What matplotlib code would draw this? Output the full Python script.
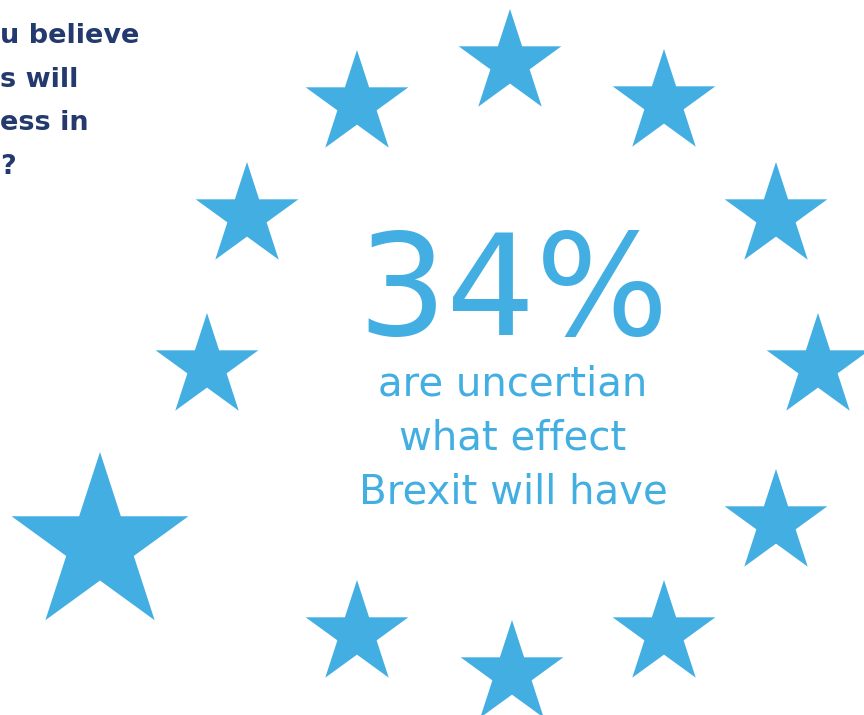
import matplotlib
matplotlib.use("Agg")
import matplotlib.pyplot as plt

# star centres (pixel space of the 864x715 picture) and their outer radius
star_x = [510, 664, 776, 818, 776, 664, 512, 357, 100, 207, 247, 357]
star_y = [63, 103, 216, 367, 523, 634, 674, 634, 545, 367, 216, 104]
star_r = [54, 54, 54, 54, 54, 54, 54, 54, 93, 54, 54, 54]

headline = "34%"
sub_lines = ["are uncertian", "what effect", "Brexit will have"]
question_lines = ["u believe", "s will", "ess in", "?"]

blue = "#43aee2"
navy = "#243a6e"

fig = plt.figure(figsize=(8.64, 7.15), dpi=100)
ax = fig.add_axes([0, 0, 1, 1])
ax.set_xlim(0, 864)
ax.set_ylim(715, 0)
ax.axis("off")

# radius in px -> marker size in points (the '*' marker has outer radius ms/2)
px2pt = 72 / fig.dpi
sizes = [(2 * r * px2pt) ** 2 for r in star_r]
ax.scatter(star_x, star_y, s=sizes, marker="*", color=blue, linewidths=0)

ax.text(513, 335, headline, ha="center", va="baseline", fontsize=101,
        color=blue, family="DejaVu Sans")
for i, line in enumerate(sub_lines):
    ax.text(513, 396 + i * 54, line, ha="center", va="baseline", fontsize=29,
            color=blue, family="DejaVu Sans")

for i, line in enumerate(question_lines):
    ax.text(0, 43 + i * 43.7, line, ha="left", va="baseline", fontsize=19.5,
            color=navy, family="DejaVu Sans", fontweight="bold")

fig.savefig("out.png", dpi=100)
